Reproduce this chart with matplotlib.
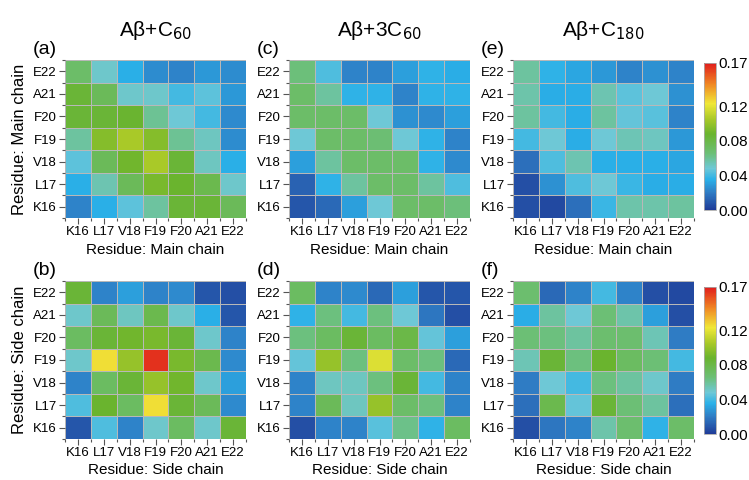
import numpy as np
import matplotlib
matplotlib.use('Agg')
import matplotlib.pyplot as plt
from matplotlib.colors import LinearSegmentedColormap, Normalize

plt.rcParams['font.family'] = ['Liberation Sans', 'DejaVu Sans']

residues = ['K16', 'L17', 'V18', 'F19', 'F20', 'A21', 'E22']

# rows listed top to bottom (E22 ... K16), columns K16 ... E22
a_main = [
    [0.070, 0.050, 0.035, 0.025, 0.022, 0.028, 0.025],
    [0.085, 0.075, 0.050, 0.050, 0.040, 0.045, 0.028],
    [0.085, 0.085, 0.087, 0.060, 0.048, 0.040, 0.024],
    [0.058, 0.095, 0.105, 0.095, 0.060, 0.052, 0.025],
    [0.045, 0.075, 0.090, 0.105, 0.085, 0.052, 0.035],
    [0.035, 0.055, 0.075, 0.092, 0.088, 0.078, 0.050],
    [0.022, 0.035, 0.045, 0.058, 0.085, 0.085, 0.075],
]
c_main = [
    [0.065, 0.042, 0.022, 0.022, 0.030, 0.036, 0.034],
    [0.070, 0.058, 0.036, 0.036, 0.022, 0.036, 0.036],
    [0.070, 0.070, 0.070, 0.048, 0.026, 0.024, 0.030],
    [0.048, 0.070, 0.070, 0.067, 0.048, 0.036, 0.022],
    [0.030, 0.058, 0.070, 0.070, 0.070, 0.036, 0.024],
    [0.012, 0.036, 0.058, 0.070, 0.070, 0.058, 0.042],
    [0.008, 0.014, 0.030, 0.048, 0.070, 0.070, 0.065],
]
e_main = [
    [0.058, 0.036, 0.032, 0.028, 0.022, 0.026, 0.022],
    [0.056, 0.034, 0.034, 0.055, 0.045, 0.048, 0.026],
    [0.058, 0.040, 0.034, 0.058, 0.046, 0.044, 0.022],
    [0.040, 0.048, 0.034, 0.048, 0.054, 0.052, 0.028],
    [0.016, 0.042, 0.055, 0.035, 0.035, 0.035, 0.032],
    [0.006, 0.026, 0.042, 0.048, 0.038, 0.034, 0.034],
    [0.006, 0.004, 0.016, 0.038, 0.056, 0.056, 0.058],
]
b_side = [
    [0.085, 0.022, 0.030, 0.022, 0.024, 0.008, 0.006],
    [0.050, 0.075, 0.052, 0.078, 0.050, 0.035, 0.008],
    [0.072, 0.085, 0.090, 0.092, 0.085, 0.050, 0.022],
    [0.050, 0.125, 0.100, 0.165, 0.092, 0.078, 0.024],
    [0.022, 0.072, 0.085, 0.100, 0.090, 0.050, 0.030],
    [0.042, 0.088, 0.072, 0.125, 0.085, 0.075, 0.024],
    [0.008, 0.042, 0.022, 0.050, 0.072, 0.050, 0.085],
]
d_side = [
    [0.072, 0.022, 0.024, 0.014, 0.030, 0.008, 0.008],
    [0.036, 0.064, 0.040, 0.064, 0.048, 0.018, 0.006],
    [0.064, 0.072, 0.085, 0.072, 0.080, 0.046, 0.030],
    [0.046, 0.100, 0.064, 0.118, 0.070, 0.064, 0.014],
    [0.022, 0.052, 0.052, 0.064, 0.085, 0.040, 0.022],
    [0.022, 0.075, 0.052, 0.100, 0.070, 0.064, 0.022],
    [0.006, 0.022, 0.022, 0.044, 0.062, 0.036, 0.072],
]
f_side = [
    [0.068, 0.014, 0.022, 0.040, 0.022, 0.006, 0.004],
    [0.034, 0.058, 0.048, 0.066, 0.056, 0.030, 0.006],
    [0.066, 0.064, 0.058, 0.068, 0.068, 0.054, 0.020],
    [0.054, 0.085, 0.064, 0.088, 0.072, 0.066, 0.040],
    [0.020, 0.048, 0.040, 0.064, 0.058, 0.050, 0.020],
    [0.016, 0.078, 0.046, 0.085, 0.066, 0.058, 0.016],
    [0.006, 0.018, 0.022, 0.056, 0.068, 0.036, 0.070],
]

titles = ['Aβ+C$_{60}$', 'Aβ+3C$_{60}$', 'Aβ+C$_{180}$']
letters = [['(a)', '(c)', '(e)'], ['(b)', '(d)', '(f)']]
panels = [[a_main, c_main, e_main], [b_side, d_side, f_side]]

vmax = 0.17
stops = [
    (0.000, '#1f3c98'),
    (0.020, '#2f7cc4'),
    (0.035, '#2ab0e8'),
    (0.048, '#6ec8d6'),
    (0.065, '#6cbf78'),
    (0.088, '#6ab42e'),
    (0.105, '#a8c828'),
    (0.123, '#f0e838'),
    (0.145, '#f08a24'),
    (0.170, '#e01c1c'),
]
cmap = LinearSegmentedColormap.from_list('origin', [(v / vmax, c) for v, c in stops])
norm = Normalize(0, vmax)

W, H = 749, 480
fig = plt.figure(figsize=(W / 100, H / 100), dpi=100)


def px_axes(left, top, width, height):
    return fig.add_axes([left / W, (H - top - height) / H, width / W, height / H])


lefts = [65, 289, 513]
tops = [60, 281]
n = len(residues)
for r in range(2):
    for c in range(3):
        ax = px_axes(lefts[c], tops[r], 181, 158)
        data = np.array(panels[r][c])[::-1]  # bottom row first
        ax.pcolormesh(np.arange(n + 1), np.arange(n + 1), data, cmap=cmap, norm=norm,
                      edgecolors='#b8b8b8', linewidth=0.6)
        ax.set_xlim(0, n)
        ax.set_ylim(0, n)
        ax.set_xticks(np.arange(n) + 0.5)
        ax.set_yticks(np.arange(n) + 0.5)
        ax.set_xticklabels(residues, fontsize=9.5)
        ax.set_yticklabels(residues, fontsize=9.5)
        ax.set_xticks(np.arange(n + 1), minor=True)
        ax.set_yticks(np.arange(n + 1), minor=True)
        ax.tick_params(which='major', length=4, width=0.8, color='#555555', pad=2)
        ax.tick_params(which='minor', length=2.5, width=0.8, color='#555555')
        for s in ax.spines.values():
            s.set_visible(False)
        ax.set_xlabel('Residue: Main chain' if r == 0 else 'Residue: Side chain',
                      fontsize=11, labelpad=3)
        if c == 0:
            ax.set_ylabel('Residue: Main chain' if r == 0 else 'Residue: Side chain',
                          fontsize=12, labelpad=4)
        ax.text(-0.18, 1.015, letters[r][c], transform=ax.transAxes, fontsize=14,
                ha='left', va='bottom')
        if r == 0:
            ax.set_title(titles[c], fontsize=15, pad=17)

for top in [63, 287]:
    cax = px_axes(704, top, 12, 147)
    cb = fig.colorbar(plt.cm.ScalarMappable(norm=norm, cmap=cmap), cax=cax,
                      ticks=[0.0, 0.04, 0.08, 0.12, 0.17])
    cb.ax.set_yticklabels(['0.00', '0.04', '0.08', '0.12', '0.17'], fontsize=11)
    cb.ax.tick_params(length=0, pad=2)
    cb.outline.set_edgecolor('#aaaaaa')
    cb.outline.set_linewidth(0.6)

fig.savefig('out.png', dpi=100)
